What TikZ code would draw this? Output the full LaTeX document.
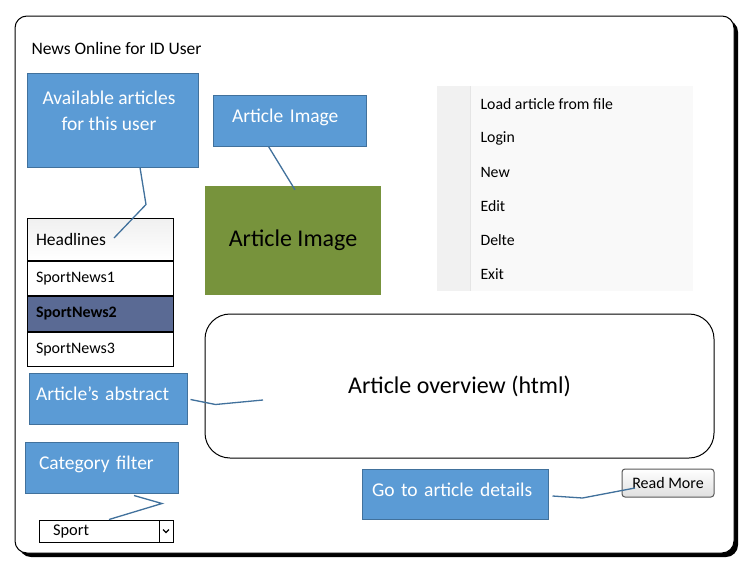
\documentclass[tikz,border=0pt]{standalone}
\usepackage{fontspec}
\setmainfont{Carlito}
\usetikzlibrary{positioning}

\definecolor{notefill}{HTML}{5B9BD5}
\definecolor{noteline}{HTML}{41719C}
\definecolor{imggreen}{HTML}{77933C}
\definecolor{selrow}{HTML}{5A6A94}
\definecolor{menubg}{HTML}{F9F9F9}
\definecolor{menustrip}{HTML}{F1F1F1}

\begin{document}
\begin{tikzpicture}[x=1pt, y=-1pt,
        note/.style={draw=noteline, fill=notefill, line width=1pt, text=white, align=left,
                     text depth=9pt, font=\fontsize{19.5}{26}\selectfont},
        link/.style={draw=noteline, line width=1.3pt},
        row/.style={draw, line width=1pt, minimum width=146, minimum height=34.5,
                    text width=128, inner xsep=9, inner ysep=0pt, align=left,
                    font=\fontsize{16}{19}\selectfont},
        item/.style={anchor=west, font=\fontsize{15.8}{19}\selectfont}]
            \useasboundingbox (0,0) rectangle (750,570);
            \fill[black, rounded corners=12] (19,20) rectangle (738,557);
            \draw[fill=white, rounded corners=12, line width=1pt] (15,16) rectangle (734,553);
            \node[anchor=west, font=\fontsize{17.5}{21}\selectfont] (title) at (28,48) {News Online for ID User};

            \node[note, minimum width=171, minimum height=94] (avail) at (112.5,120) {};
            \node[text=white, align=center, font=\fontsize{19.5}{26}\selectfont] (availtext) at (109,111) {Available articles\\for this user};
            \node[note, text width=115, inner xsep=19, minimum height=51] (imgnote) at (289.5,120.5) {Article Image};
            \node[fill=imggreen, minimum width=176, minimum height=109, font=\fontsize{24}{28}\selectfont] (img) at (293,240.5) {Article Image};
            \draw[link] ([xshift=-21]imgnote.south) -- ([xshift=2,yshift=-4]img.north);

            \node[row, minimum height=42, top color=gray!12, bottom color=white,
                  font=\fontsize{17.5}{21}\selectfont] (head) at (100,239) {Headlines};
            \node[row, below=0pt of head] (sn1) {SportNews1};
            \node[row, below=0pt of sn1, fill=selrow, font=\fontsize{16}{19}\selectfont\bfseries] (sn2) {SportNews2};
            \node[row, below=0pt of sn2] (sn3) {SportNews3};
            \coordinate (headtip) at (114,238);
            \draw[link] ([xshift=27.5]avail.south) -- ++(6,37) -- (headtip);

            \fill[menubg] (437,86) rectangle (693,291);
            \fill[menustrip] (437,86) rectangle (470,291);
            \draw[gray!20] (470.5,86) -- (470.5,291);
            \foreach \name/\txt [count=\i from 0] in {load/Load article from file, login/Login,
                    new/New, edit/Edit, delte/Delte, exit/Exit}
                \node[item] (\name) at (477,104+34*\i) {\txt};

            \node[draw, rounded corners=25, line width=1pt, minimum width=509, minimum height=144,
                  font=\fontsize{24}{28}\selectfont] (overview) at (459.5,386) {Article overview (html)};
            \node[note, text width=144, inner xsep=7, minimum height=51] (abstract) at (108,398.5) {Article’s abstract};
            \coordinate (overtip) at (263,400);
            \draw[link] ([xshift=3,yshift=-1]abstract.east) -- ++(25,5) -- (overtip);

            \node[note, text width=125, inner xsep=14, minimum height=51] (catnote) at (101.5,467.5) {Category filter};
            \node[draw, line width=1pt, minimum width=134, minimum height=22, text width=106,
                  inner xsep=14, inner ysep=0pt, align=left, font=\fontsize{16.4}{19}\selectfont] (sport) at (106,531) {Sport};
            \node[draw, line width=1pt, minimum width=14, minimum height=22, anchor=east] (sportbtn) at (sport.east) {};
            \draw[line width=1.2pt] (sportbtn.center) ++(-3,-1.5) -- ++(3,3) -- ++(3,-3);
            \draw[link] ([xshift=32.5,yshift=-2]catnote.south) -- ++(28,8) -- ([xshift=3]sport.north);

            \node[note, text width=166, inner xsep=10, minimum height=50] (gonote) at (455,494) {Go to article details};
            \node[draw=gray!70!black, rounded corners=3, line width=1pt, top color=white, bottom color=gray!25,
                  minimum width=92, minimum height=28, font=\fontsize{16}{19}\selectfont] (readmore) at (668,483) {Read More};
            \coordinate (moretip) at (635,488);
            \draw[link] ([xshift=4,yshift=-2]gonote.east) -- ++(30,2) -- (moretip);
        \end{tikzpicture}
\end{document}
